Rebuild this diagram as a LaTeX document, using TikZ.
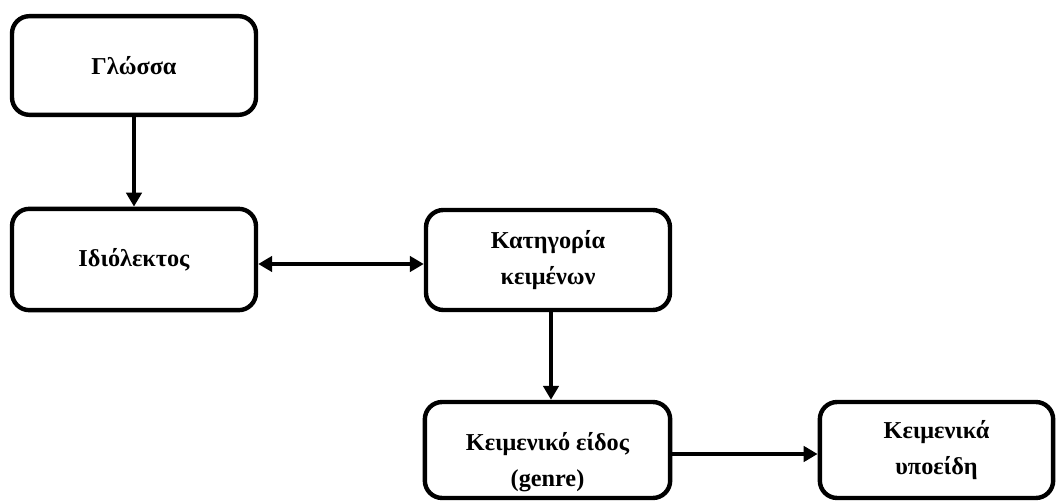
\documentclass[tikz,border=0pt]{standalone}
\usepackage{fontspec}
\setmainfont{Liberation Serif}
\usetikzlibrary{arrows.meta}
\begin{document}
\begin{tikzpicture}[x=0.75pt,y=-0.75pt,
  box/.style={draw, line width=3.3pt, rounded corners=13pt, inner sep=0pt,
    align=center, font=\bfseries\fontsize{18.2}{27.5}\selectfont},
  txt/.style={align=center, inner sep=0pt, font=\bfseries\fontsize{18.2}{27.5}\selectfont},
  link/.style={line width=3.2pt, -{Triangle[length=10.5pt,width=11.5pt]}},
  twoway/.style={line width=3.2pt, {Triangle[length=10.5pt,width=11.5pt]}-{Triangle[length=10.5pt,width=11.5pt]}}]
  \useasboundingbox (0,0) rectangle (1057,502);

  \node[box, minimum width=183pt, minimum height=74pt] (lang) at (134,65.5) {Γλώσσα};
  \node[box, minimum width=183pt, minimum height=76pt] (idio) at (134,259.5) {Ιδιόλεκτος};
  \node[box, minimum width=183pt, minimum height=75pt] (cat) at (548,260) {Κατηγορία\\κειμένων};
  \node[box, minimum width=184pt, minimum height=72pt] (genre) at (547.5,450) {};
  \node[txt] (genretxt) at (547.5,462) {Κειμενικό είδος\\(genre)};
  \node[box, minimum width=175pt, minimum height=72pt] (sub) at (936.5,450) {Κειμενικά\\υποείδη};

  \draw[link] (lang.south) -- (idio.north);
  \draw[twoway] (idio.east |- 0,264) -- (cat.west |- 0,264);
  \draw[link] (cat.south -| 551,0) -- (genre.north -| 551,0);
  \draw[link] (genre.east |- 0,454) -- (sub.west |- 0,454);
\end{tikzpicture}
\end{document}
